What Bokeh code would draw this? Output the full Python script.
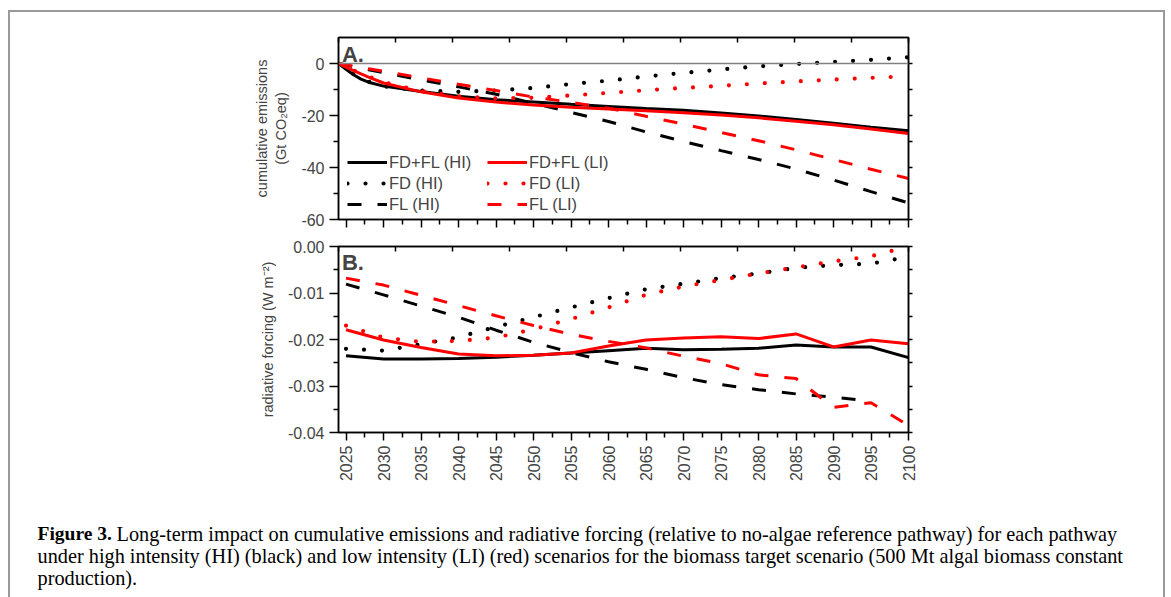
import math
from bokeh.plotting import figure
from bokeh.models import (Range1d, LinearAxis, FixedTicker, Span, Label, Legend, LegendItem,
                          CustomJSTickFormatter, NumeralTickFormatter)
from bokeh.layouts import column
from bokeh.embed import file_html
from bokeh.resources import INLINE
from bokeh.core.properties import value

NAN = float("nan")

# ---------------- data ----------------
years_a = [2024, 2025, 2026, 2027, 2028, 2030, 2035, 2040, 2045, 2050, 2055,
           2060, 2065, 2070, 2075, 2080, 2085, 2090, 2095, 2100]
# cumulative emissions (Gt CO2eq)
a_fdfl_hi = [0, -2.2, -4.3, -6.0, -7.2, -8.7, -10.8, -12.6, -13.9, -14.8, -15.7,
             -16.5, -17.3, -18.0, -19.0, -20.2, -21.5, -23.0, -24.5, -25.9]
a_fd_hi = [0, -2.0, -4.0, -5.7, -7.0, -8.8, -10.4, -10.9, -10.4, -9.4, -7.9,
           -6.6, -5.0, -3.6, -2.3, -1.1, -0.2, 0.6, 1.4, 2.4]
a_fl_hi = [0, -0.6, -1.2, -1.8, -2.4, -3.5, -6.3, -9.0, -11.8, -15.3, -18.8,
           -22.3, -26.3, -30.0, -33.5, -36.9, -40.6, -44.8, -49.3, -53.6]
a_fdfl_li = [0, -1.4, -2.7, -4.0, -5.2, -7.5, -10.9, -13.3, -14.8, -16.0, -16.8,
             -17.5, -18.2, -18.9, -19.8, -20.9, -22.2, -23.6, -25.2, -26.9]
a_fd_li = [0, -1.3, -2.6, -3.8, -5.0, -7.2, -10.6, -12.6, -13.4, -13.2, -12.3,
           -11.3, -10.3, -9.4, -8.6, -7.7, -6.9, -6.2, -5.5, -4.9]
a_fl_li = [0, -0.5, -1.0, -1.5, -2.0, -3.0, -5.5, -8.0, -10.4, -12.9, -14.9,
           -17.2, -20.3, -23.3, -26.5, -29.7, -33.2, -36.9, -40.7, -44.2]

years_b = [2025, 2030, 2035, 2040, 2045, 2050, 2055, 2060, 2065, 2070, 2075,
           2080, 2085, 2090, 2095, 2100]
# radiative forcing (W m-2)
b_fdfl_hi = [-0.0235, -0.0242, -0.0242, -0.0241, -0.0238, -0.0234, -0.0229, -0.0224,
             -0.0219, -0.0222, -0.0221, -0.0219, -0.0212, -0.0216, -0.0216, -0.0239]
b_fd_hi = [-0.0220, -0.0224, -0.0210, -0.0195, -0.0173, -0.0152, -0.0131, -0.0111,
           -0.0092, -0.0080, -0.0068, -0.0058, -0.0046, -0.0040, -0.0037, -0.0022]
b_fl_hi = [-0.0081, -0.0104, -0.0128, -0.0152, -0.0180, -0.0206, -0.0228, -0.0248,
           -0.0264, -0.0282, -0.0297, -0.0308, -0.0317, -0.0324, -0.0333, NAN]
b_fdfl_li = [-0.0179, -0.0201, -0.0217, -0.0231, -0.0235, -0.0234, -0.0229, -0.0214,
             -0.0201, -0.0197, -0.0194, -0.0198, -0.0188, -0.0216, -0.0201, -0.0209]
b_fd_li = [-0.0170, -0.0196, -0.0205, -0.0203, -0.0196, -0.0178, -0.0156, -0.0131,
           -0.0104, -0.0086, -0.0072, -0.0058, -0.0045, -0.0032, -0.0021, 0.0]
b_fl_li = [-0.0068, -0.0083, -0.0105, -0.0127, -0.0149, -0.0170, -0.0189, -0.0204,
           -0.0218, -0.0236, -0.0252, -0.0276, -0.0284, -0.0346, -0.0336, -0.0385]

labels_hi = ["FD+FL (HI)", "FD (HI)", "FL (HI)"]
labels_li = ["FD+FL (LI)", "FD (LI)", "FL (LI)"]

x_major = list(range(2025, 2101, 5))
x_minor = [y + 2.5 for y in range(2025, 2100, 5)]
a_y_major = [-60, -40, -20, 0]
a_y_minor = [-50, -30, -10]
a_right_ticks = [-60, -50, -40, -30, -20, -10, 0]
b_y_major = [0.0, -0.01, -0.02, -0.03, -0.04]
b_y_minor = [-0.005, -0.015, -0.025, -0.035]
b_right_ticks = [0.0, -0.005, -0.01, -0.015, -0.02, -0.025, -0.03, -0.035, -0.04]
top_ticks = [2024 + 7.6 * k for k in range(11)]

ylabel_a = "cumulative emissions\n(Gt CO\u2082eq)"
ylabel_b = "radiative forcing (W m\u207b\u00b2)"

caption_bold = "Figure 3."
caption_1 = ("Long-term impact on cumulative emissions and radiative forcing (relative to "
             "no-algae reference pathway) for each pathway")
caption_2 = ("under high intensity (HI) (black) and low intensity (LI) (red) scenarios for "
             "the biomass target scenario (500 Mt algal biomass constant")
caption_3 = "production)."

# ---------------- style ----------------
SANS = "Liberation Sans"
SERIF = "Liberation Serif"
W = 1153
LEFT = 328
FRAME_W = 570
RIGHT = W - LEFT - FRAME_W
BLANK = CustomJSTickFormatter(code="return ''")

STYLES = {
    "solid": dict(line_width=3),
    "dot": dict(line_width=4.2, line_dash="0 18", line_cap="round"),
    "dash": dict(line_width=3, line_dash="14 16"),
}


def blank_axis(ticks, minor=None, tin=0, tout=0, minor_in=0, minor_out=0):
    ax = LinearAxis(ticker=FixedTicker(ticks=ticks, minor_ticks=minor or []),
                    formatter=BLANK, axis_line_color="black", axis_line_width=1.5,
                    major_tick_in=tin, major_tick_out=tout,
                    minor_tick_in=minor_in, minor_tick_out=minor_out,
                    major_tick_line_width=1.5, minor_tick_line_width=1.5,
                    major_label_standoff=0, major_label_text_font_size="1px")
    return ax


def make_panel(height, top, bottom, yr, ylabel, ymaj, ymin, yright, yfmt, xlabels):
    p = figure(width=W, height=height, x_range=Range1d(2024, 2100),
               y_range=Range1d(*yr), output_backend="svg", toolbar_location=None,
               tools="", min_border_left=LEFT, min_border_right=RIGHT,
               min_border_top=top, min_border_bottom=bottom,
               x_axis_location=None, y_axis_location=None)
    p.xgrid.visible = False
    p.ygrid.visible = False
    p.outline_line_color = "black"
    p.outline_line_width = 1.5
    p.background_fill_color = "white"
    p.border_fill_color = "white"

    ly = LinearAxis(ticker=FixedTicker(ticks=ymaj, minor_ticks=ymin),
                    formatter=yfmt, axis_label=ylabel,
                    axis_label_text_font=SANS, axis_label_text_font_size="14.5px",
                    axis_label_text_font_style="normal", axis_label_standoff=9,
                    major_label_text_font=SANS, major_label_text_font_size="16px",
                    major_label_standoff=5, axis_line_width=1.5,
                    major_tick_in=0, major_tick_out=9, minor_tick_in=0, minor_tick_out=5,
                    major_tick_line_width=1.5, minor_tick_line_width=1.5)
    p.add_layout(ly, "left")
    p.add_layout(blank_axis(yright, tout=4), "right")
    p.add_layout(blank_axis(top_ticks, tin=5), "above")
    if xlabels:
        bx = LinearAxis(ticker=FixedTicker(ticks=x_major, minor_ticks=x_minor),
                        major_label_orientation=math.pi / 2,
                        major_label_text_font=SANS, major_label_text_font_size="16px",
                        major_label_standoff=5, axis_line_width=1.5,
                        major_tick_in=0, major_tick_out=8, minor_tick_in=0, minor_tick_out=5,
                        major_tick_line_width=1.5, minor_tick_line_width=1.5)
    else:
        bx = blank_axis(x_major, x_minor, tout=8, minor_out=5)
    p.add_layout(bx, "below")
    return p


def add_series(p, years, series):
    rends = {}
    for key, ys, color, style in series:
        r = p.line(years, ys, line_color=color, **STYLES[style])
        rends[key] = r
    return rends


# ---------------- panel A ----------------
pA = make_panel(225, 25, 18, (-60, 10), ylabel_a, a_y_major, a_y_minor, a_right_ticks,
                NumeralTickFormatter(format="0"), False)
pA.add_layout(Span(location=0, dimension="width", line_color="#808080", line_width=1.5))
rA = add_series(pA, years_a, [
    ("fdfl_hi", a_fdfl_hi, "black", "solid"),
    ("fd_hi", a_fd_hi, "black", "dot"),
    ("fl_hi", a_fl_hi, "black", "dash"),
    ("fdfl_li", a_fdfl_li, "red", "solid"),
    ("fd_li", a_fd_li, "red", "dot"),
    ("fl_li", a_fl_li, "red", "dash"),
])
pA.add_layout(Label(x=2024.45, y=8.3, text="A.", text_font=SANS, text_font_size="22px",
                    text_font_style="bold", text_baseline="top"))
items = [LegendItem(label=labels_hi[0], renderers=[rA["fdfl_hi"]]),
         LegendItem(label=labels_hi[1], renderers=[rA["fd_hi"]]),
         LegendItem(label=labels_hi[2], renderers=[rA["fl_hi"]]),
         LegendItem(label=labels_li[0], renderers=[rA["fdfl_li"]]),
         LegendItem(label=labels_li[1], renderers=[rA["fd_li"]]),
         LegendItem(label=labels_li[2], renderers=[rA["fl_li"]])]
legend = Legend(items=items, location=(9, 5), orientation="vertical", nrows=3,
                label_text_font=SANS, label_text_font_size="16.5px",
                glyph_width=40, glyph_height=20, label_height=20, label_width=97,
                label_standoff=2, spacing=1, padding=0, margin=0,
                border_line_color=None, background_fill_alpha=0)
pA.add_layout(legend)

# ---------------- panel B ----------------
pB = make_panel(255, 9, 60, (-0.04, 0.0), ylabel_b,
                b_y_major, b_y_minor, b_right_ticks, NumeralTickFormatter(format="0.00"), True)
add_series(pB, years_b, [
    ("fdfl_hi", b_fdfl_hi, "black", "solid"),
    ("fd_hi", b_fd_hi, "black", "dot"),
    ("fl_hi", b_fl_hi, "black", "dash"),
    ("fdfl_li", b_fdfl_li, "red", "solid"),
    ("fd_li", b_fd_li, "red", "dot"),
    ("fl_li", b_fl_li, "red", "dash"),
])
pB.add_layout(Label(x=2024.45, y=-0.0007, text="B.", text_font=SANS, text_font_size="22px",
                    text_font_style="bold", text_baseline="top"))

# ---------------- caption ----------------
CH = 118
pC = figure(width=W, height=CH, x_range=Range1d(0, W), y_range=Range1d(CH, 0),
            output_backend="svg", toolbar_location=None, tools="",
            min_border=0, x_axis_location=None, y_axis_location=None)
pC.frame_align = False
pC.xgrid.visible = False
pC.ygrid.visible = False
pC.outline_line_color = None
CAP_X = 27
CAP_FS = "20.3px"
pC.text(x=[CAP_X], y=[41], text=[caption_bold], text_font=value(SERIF),
        text_font_style="bold", text_font_size="19.5px", text_baseline="alphabetic",
        text_align="left")
pC.text(x=[CAP_X + 79], y=[41], text=[caption_1], text_font=value(SERIF),
        text_font_size=CAP_FS, text_baseline="alphabetic", text_align="left")
pC.text(x=[CAP_X, CAP_X], y=[63, 85], text=[caption_2, caption_3], text_font=value(SERIF),
        text_font_size=CAP_FS, text_baseline="alphabetic", text_align="left")

layout = column(pA, pB, pC, spacing=0,
                styles={"margin-left": "8px", "margin-top": "10px",
                        "border": "2px solid #9a9a9a"})

open("out.html", "w").write(file_html(layout, INLINE))
